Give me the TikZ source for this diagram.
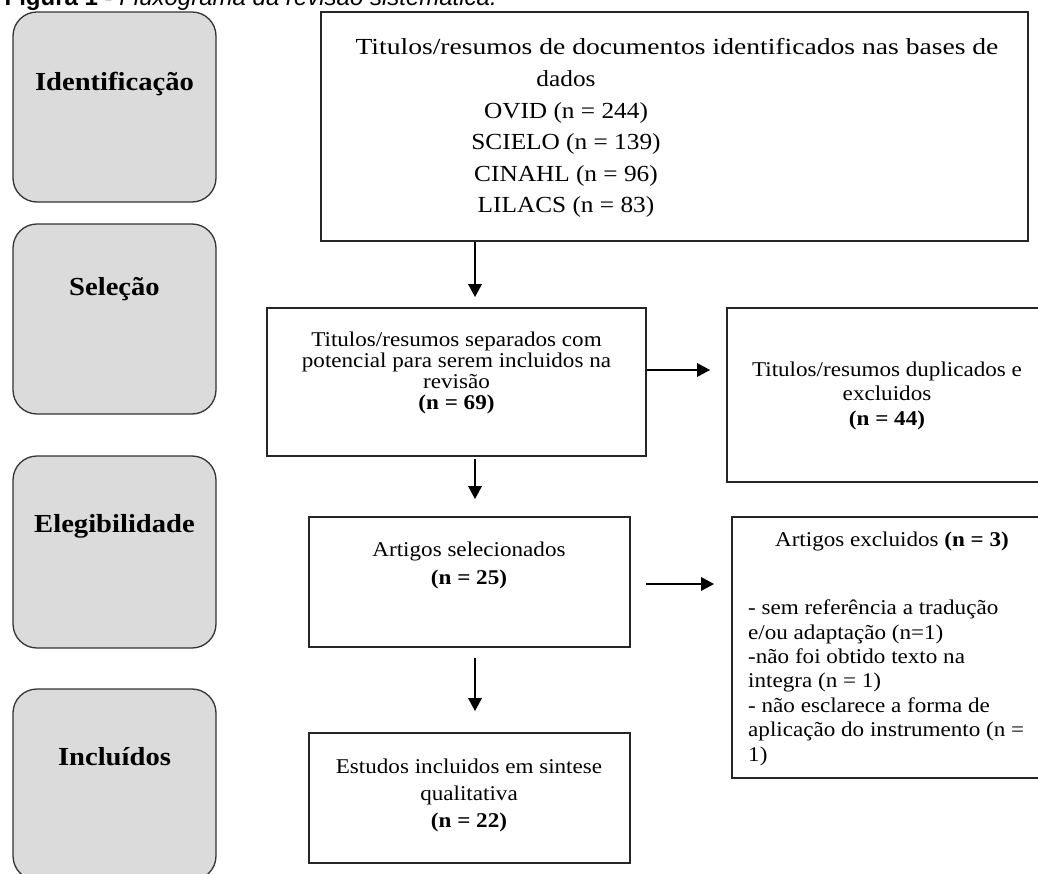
\documentclass[tikz,border=0pt]{standalone}
\usepackage{fontspec}
\usepackage{graphicx}
\setmainfont[FakeStretch=1.1]{Liberation Serif}
\newfontfamily\nfont{Liberation Serif}
\newfontfamily\capfont{Liberation Sans}
\usetikzlibrary{arrows.meta}
\begin{document}
\begin{tikzpicture}[x=1pt,y=-1pt,
  stage/.style={draw=black!80, line width=1.3pt, fill=black!14, rounded corners=24pt, inner sep=0pt},
  boxnode/.style={draw=black!85, line width=1.6pt, fill=white, inner sep=0pt},
  stagelabel/.style={font=\bfseries\fontsize{26}{28}\selectfont, inner sep=0pt},
  txt/.style={align=center, inner sep=0pt, anchor=base},
  arr/.style={line width=2.8pt, -{Triangle[width=13pt,length=13pt]}}
]
\useasboundingbox (0,0) rectangle (1038,874);
\clip (0,0) rectangle (1038,874);
\fill[white] (0,0) rectangle (1038,874);

% caption (cut off at top)
\node[anchor=base east, inner sep=0pt, font=\capfont\fontsize{24}{26}\selectfont] (cap) at (497,6)
  {\textbf{Figura 1 -} \textit{Fluxograma da revisão sistemática.}};

% stage boxes
\node[stage, minimum width=203pt, minimum height=190pt] (S1) at (114.5,107) {};
\node[stage, minimum width=203pt, minimum height=190pt] (S2) at (114.5,319) {};
\node[stage, minimum width=203pt, minimum height=192pt] (S3) at (114.5,552) {};
\node[stage, minimum width=203pt, minimum height=191pt] (S4) at (114.5,784.5) {};
\node[stagelabel] (L1) at ([yshift=-73pt]S1.north) {Identificação};
\node[stagelabel] (L2) at ([yshift=-66pt]S2.north) {Seleção};
\node[stagelabel] (L3) at ([yshift=-71pt]S3.north) {Elegibilidade};
\node[stagelabel] (L4) at ([yshift=-68pt]S4.north) {Incluídos};

% flow boxes
\node[boxnode, minimum width=707pt, minimum height=229pt] (A) at (674.5,126.5) {};
\node[boxnode, minimum width=379pt, minimum height=148pt] (B) at (456.5,382) {};
\node[boxnode, minimum width=318pt, minimum height=174pt] (C) at (886,395) {};
\node[boxnode, minimum width=321pt, minimum height=130pt] (D) at (469.5,582) {};
\node[boxnode, minimum width=313pt, minimum height=261pt] (E) at (888.5,647.5) {};
\node[boxnode, minimum width=321pt, minimum height=130pt] (G) at (469.5,798) {};

% texts (anchor base = baseline of last line)
\node[txt, font=\nfont\fontsize{23}{31.6}\selectfont] (At1) at (677,55)
  {\scalebox{1.2}[1]{Titulos/resumos de documentos identificados nas bases de}};
\node[txt, font=\fontsize{23}{31.6}\selectfont] (At2) at (566,213)
  {dados\\OVID (n = 244)\\SCIELO (n = 139)\\CINAHL (n = 96)\\LILACS (n = 83)};
\node[txt, font=\fontsize{21}{20.7}\selectfont] (Bt) at (456.5,409)
  {Titulos/resumos separados com\\potencial para serem incluidos na\\revisão\\\textbf{(n = 69)}};
\node[txt, font=\fontsize{21}{24.5}\selectfont] (Ct) at (887,425)
  {Titulos/resumos duplicados e\\excluidos\\\textbf{(n = 44)}};
\node[txt, font=\fontsize{21}{28}\selectfont] (Dt) at (469,584)
  {Artigos selecionados\\\textbf{(n = 25)}};
\node[txt, font=\fontsize{21}{24.4}\selectfont] (Et1) at (892,546)
  {Artigos excluidos \textbf{(n = 3)}};
\node[txt, align=left, anchor=base west, font=\fontsize{21}{24.4}\selectfont] (Et2) at (748,761)
  {- sem referência a tradução\\e/ou adaptação (n=1)\\-não foi obtido texto na\\integra (n = 1)\\- não esclarece a forma de\\aplicação do instrumento (n =\\1)};
\node[txt, font=\fontsize{21}{27}\selectfont] (Gt) at (469,827)
  {Estudos incluidos em sintese\\qualitativa\\\textbf{(n = 22)}};

% connectors
\coordinate (col) at (475,0);
\coordinate (bcy) at (0,370);
\coordinate (dey) at (0,584);
\draw[arr, shorten >=10pt] (A.south -| col) -- (B.north -| col);
\draw[arr, shorten <=2pt, shorten >=17pt] (B.south -| col) -- (D.north -| col);
\draw[arr, shorten <=10pt, shorten >=21pt] (D.south -| col) -- (G.north -| col);
\draw[arr, shorten >=16pt] (B.east |- bcy) -- (C.west |- bcy);
\draw[arr, shorten <=15pt, shorten >=17pt] (D.east |- dey) -- (E.west |- dey);
\end{tikzpicture}
\end{document}
